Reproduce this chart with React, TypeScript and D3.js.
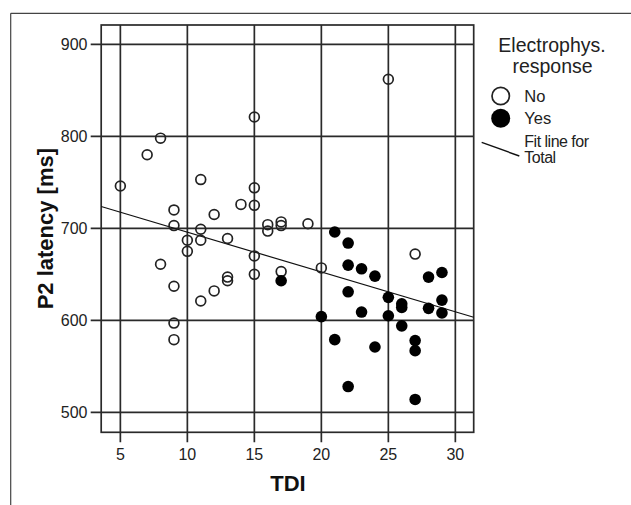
import React from "react";
import * as d3 from "d3";

// values
const noTdi = [5, 7, 8, 8, 9, 9, 9, 9, 9, 10, 10, 11, 11, 11, 11, 12, 12, 13, 13, 13, 14, 15, 15, 15, 15, 15, 16, 16, 17, 17, 17, 19, 20, 25, 27];
const noLatency = [746, 780, 798, 661, 720, 703, 637, 597, 579, 687, 675, 753, 699, 687, 621, 715, 632, 689, 647, 643, 726, 821, 744, 725, 670, 650, 704, 697, 707, 703, 653, 705, 657, 862, 672];

const yesTdi = [17, 20, 21, 21, 22, 22, 22, 22, 23, 23, 24, 24, 25, 25, 26, 26, 26, 27, 27, 27, 28, 28, 29, 29, 29];
const yesLatency = [643, 604, 696, 579, 684, 660, 631, 528, 656, 609, 648, 571, 625, 605, 618, 614, 594, 578, 567, 514, 647, 613, 652, 622, 608];

const xTicks = [5, 10, 15, 20, 25, 30];
const yTicks = [500, 600, 700, 800, 900];

// fit line for total (intercept, slope)
const fitIntercept = 739.2;
const fitSlope = -4.33;

const legendTitle = ["Electrophys.", "response"];
const legendLabels = ["No", "Yes"];

export default function App() {
    const width = 631, height = 505;
    const left = 101.2, right = 473.7, top = 25, bottom = 432.3;

    const x = d3.scaleLinear().domain([3.57, 31.37]).range([left, right]);
    const y = d3.scaleLinear().domain([478.3, 921]).range([bottom, top]);

    const gridColor = "#2a2a2a";
    const textColor = "#222";
    const font = "Arial, 'Liberation Sans', sans-serif";

    const [d0, d1] = x.domain();
    const fitLine = d3.line<number>()
        .x(d => x(d))
        .y(d => y(fitIntercept + fitSlope * d));

    return (
        <svg width={width} height={height} style={{ position: "absolute", left: 0, top: 0, background: "#fff" }}>
            {/* outer frame (cropped) */}
            <line x1={10.7} y1={13.3} x2={width} y2={13.3} stroke="#444" strokeWidth={1.2} />
            <line x1={10.7} y1={13.3} x2={10.7} y2={height} stroke="#444" strokeWidth={1.2} />

            {/* grid */}
            {xTicks.map(t => (
                <g key={"x" + t}>
                    <line x1={x(t)} x2={x(t)} y1={top} y2={bottom + 10} stroke={gridColor} strokeWidth={1.7} />
                    <text x={x(t)} y={460} textAnchor="middle" fontSize={16} fontFamily={font} fill={textColor}>{t}</text>
                </g>
            ))}
            {yTicks.map(t => (
                <g key={"y" + t}>
                    <line x1={left - 10.5} x2={right} y1={y(t)} y2={y(t)} stroke={gridColor} strokeWidth={1.7} />
                    <text x={87.5} y={y(t) + 6} textAnchor="end" fontSize={16} fontFamily={font} fill={textColor}>{t}</text>
                </g>
            ))}
            <rect x={left} y={top} width={right - left} height={bottom - top} fill="none" stroke={gridColor} strokeWidth={1.7} />

            {/* fit line */}
            <path d={fitLine([d0, d1]) || ""} fill="none" stroke="#111" strokeWidth={1.2} />

            {/* points */}
            {noTdi.map((t, i) => (
                <circle key={"n" + i} cx={x(t)} cy={y(noLatency[i])} r={4.9} fill="none" stroke="#222" strokeWidth={1.7} />
            ))}
            {yesTdi.map((t, i) => (
                <circle key={"f" + i} cx={x(t)} cy={y(yesLatency[i])} r={5.8} fill="#000" />
            ))}

            {/* axis titles */}
            <text x={288} y={490.5} textAnchor="middle" fontSize={22} fontWeight="bold" fontFamily={font} fill="#111">TDI</text>
            <text transform={`translate(53,${(top + bottom) / 2}) rotate(-90)`} textAnchor="middle" fontSize={22} fontWeight="bold" fontFamily={font} fill="#111">P2 latency [ms]</text>

            {/* legend */}
            <text x={552} y={51.7} textAnchor="middle" fontSize={19.5} fontFamily={font} fill={textColor}>{legendTitle[0]}</text>
            <text x={552.5} y={73.3} textAnchor="middle" fontSize={19.5} fontFamily={font} fill={textColor}>{legendTitle[1]}</text>

            <circle cx={500.7} cy={96} r={8.7} fill="#fff" stroke="#222" strokeWidth={1.7} />
            <text x={524.3} y={102.3} fontSize={16.5} fontFamily={font} fill={textColor}>{legendLabels[0]}</text>
            <circle cx={500.7} cy={118.3} r={9.5} fill="#000" />
            <text x={524.3} y={124.3} fontSize={16.5} fontFamily={font} fill={textColor}>{legendLabels[1]}</text>

            <line x1={481.7} y1={142.3} x2={519.3} y2={156} stroke="#111" strokeWidth={1.4} />
            <text x={524.3} y={146.7} fontSize={16} fontFamily={font} fill={textColor} letterSpacing={-0.5}>Fit line for</text>
            <text x={524.3} y={162.7} fontSize={16} fontFamily={font} fill={textColor} letterSpacing={-0.5}>Total</text>
        </svg>
    );
}
